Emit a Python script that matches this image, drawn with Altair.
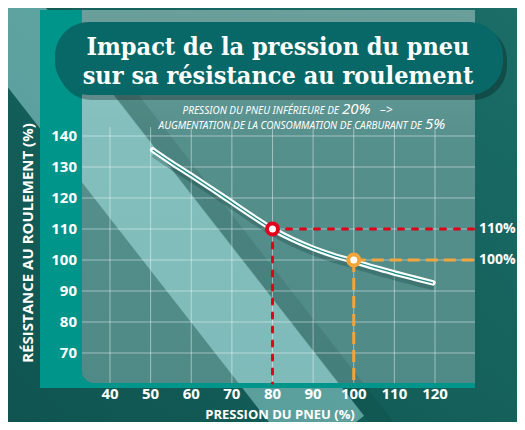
import altair as alt
import pandas as pd

# ---- data ----
pressure = [50.5, 55, 60, 65, 70, 75, 80, 85, 90, 95, 100, 105, 110, 115, 119.5]
resistance = [135.5, 131.5, 127.3, 123.0, 118.6, 114.2, 110.0, 106.6, 103.8, 101.5, 99.6, 97.6, 95.8, 94.1, 92.6]
x_ticks = [40, 50, 60, 70, 80, 90, 100, 110, 120]
y_ticks = [70, 80, 90, 100, 110, 120, 130, 140]
mark_pressure = [80, 100]
mark_resistance = [110, 100]
mark_labels = ["110%", "100%"]
mark_colors = ["#e0001b", "#f3a53c"]
title_lines = ["Impact de la pression du pneu", "sur sa résistance au roulement"]
subtitle_1 = ["PRESSION DU PNEU INFÉRIEURE DE", "20%", "–>"]
subtitle_2 = ["AUGMENTATION DE LA CONSOMMATION DE CARBURANT DE", "5%"]
x_title = "PRESSION DU PNEU (%)"
y_title = "RÉSISTANCE AU ROULEMENT (%)"

curve_df = pd.DataFrame({"p": pressure, "r": resistance})
xt_df = pd.DataFrame({"xt": x_ticks})
yt_df = pd.DataFrame({"yt": y_ticks})
red_df = pd.DataFrame({"p": mark_pressure[:1], "r": mark_resistance[:1], "lab": mark_labels[:1]})
orange_df = pd.DataFrame({"p": mark_pressure[1:], "r": mark_resistance[1:], "lab": mark_labels[1:]})
one = pd.DataFrame({"a": [0]})

W, H = 509, 414
xs = alt.Scale(domain=[14.892, 140.185], nice=False, zero=False)
ys = alt.Scale(domain=[47.74, 181.29], nice=False, zero=False)

TEAL = "#00958b"


def grad(c1, c2, x1=0, y1=0, x2=0, y2=1, mid=None):
    stops = [alt.GradientStop(offset=0, color=c1)]
    if mid:
        stops.append(alt.GradientStop(offset=mid[0], color=mid[1]))
    stops.append(alt.GradientStop(offset=1, color=c2))
    return alt.Gradient(gradient="linear", stops=stops, x1=x1, y1=y1, x2=x2, y2=y2)


def box(x, x2, y, y2, color, **kw):
    return alt.Chart(one).mark_rect(color=color, **kw).encode(
        x=alt.value(x), x2=alt.value(x2), y=alt.value(y), y2=alt.value(y2))


def label(txt, x, y, size, align="center", baseline="middle", **kw):
    return alt.Chart(one).mark_text(
        align=align, baseline=baseline, fontSize=size, color="white", **kw
    ).encode(x=alt.value(x), y=alt.value(y), text=alt.value(txt))


bg = box(0, W, 0, H, grad("#0f5450", "#1b6d67", x1=0, y1=1, x2=1, y2=0))
corner = box(66, 92, 355, 380, TEAL)
panel = box(74, 467, 2, 375, grad("#6b9f9b", "#4f8a87", mid=(0.35, "#56908d")), cornerRadiusBottomLeft=12)
stripe = alt.Chart(one).mark_rule(color="#c0ffff", opacity=0.42, strokeWidth=79, strokeCap="butt").encode(
    x=alt.value(-26), y=alt.value(-18), x2=alt.value(325), y2=alt.value(432))
stripe_shadow = alt.Chart(one).mark_rule(color="#03302d", opacity=0.12, strokeWidth=20, strokeCap="butt").encode(
    x=alt.value(36), y=alt.value(-18), x2=alt.value(387), y2=alt.value(432))
left_strip = box(32, 74, 2, 380, TEAL)
bottom_strip = box(74, 467, 375, 380, TEAL)

vgrid = alt.Chart(xt_df).mark_rule(color="white", opacity=0.45, strokeWidth=1).encode(
    x=alt.X("xt:Q", scale=xs, axis=None), y=alt.value(119), y2=alt.value(375))
hgrid = alt.Chart(yt_df).mark_rule(color="white", opacity=0.45, strokeWidth=1).encode(
    y=alt.Y("yt:Q", scale=ys, axis=None), x=alt.value(74), x2=alt.value(467))

tick_style = dict(color="white", font="Open Sans", fontWeight="bold", fontSize=15, baseline="middle")
xlabels = alt.Chart(xt_df).mark_text(align="center", **tick_style).encode(
    x=alt.X("xt:Q", scale=xs, axis=None), y=alt.value(386), text=alt.Text("xt:Q", format="d"))
ylabels = alt.Chart(yt_df).mark_text(align="right", **tick_style).encode(
    y=alt.Y("yt:Q", scale=ys, axis=None), x=alt.value(69), text=alt.Text("yt:Q", format="d"))

enc_xy = dict(x=alt.X("p:Q", scale=xs, axis=None), y=alt.Y("r:Q", scale=ys, axis=None))

shadow = alt.Chart(curve_df).mark_line(color="#062f2d", opacity=0.25, strokeWidth=7,
                                       interpolate="monotone", xOffset=1, yOffset=4).encode(**enc_xy)
line_w = alt.Chart(curve_df).mark_line(color="white", strokeWidth=5.5, strokeCap="round",
                                       interpolate="monotone").encode(**enc_xy)
line_t = alt.Chart(curve_df).mark_line(color="#1d8a88", strokeWidth=1.3,
                                       interpolate="monotone").encode(**enc_xy)


def guides(df, color, dash, cap):
    h = alt.Chart(df).mark_rule(color=color, strokeWidth=3, strokeDash=dash, strokeCap=cap).encode(
        x=alt.X("p:Q", scale=xs, axis=None), x2=alt.value(467), y=alt.Y("r:Q", scale=ys, axis=None))
    v = alt.Chart(df).mark_rule(color=color, strokeWidth=3, strokeDash=dash, strokeCap=cap).encode(
        x=alt.X("p:Q", scale=xs, axis=None), y=alt.Y("r:Q", scale=ys, axis=None), y2=alt.value(375))
    pt = alt.Chart(df).mark_point(filled=True, fill="white", stroke=color, strokeWidth=4,
                                  size=121, opacity=1, shape="circle").encode(**enc_xy)
    lab = alt.Chart(df).mark_text(align="left", baseline="middle", color="white", font="Open Sans",
                                  fontWeight="bold", fontSize=14).encode(
        x=alt.value(471), y=alt.Y("r:Q", scale=ys, axis=None), text="lab:N")
    return [h, v, pt, lab]


red = guides(red_df, mark_colors[0], [5, 9], "round")
orange = guides(orange_df, mark_colors[1], [12, 6], "butt")

title_shadow = box(50, 499, 18, 92, "#000000", opacity=0.28, cornerRadius=34)
title_box = box(47, 495, 14, 87, "#086868", cornerRadius=34)
t1 = label(title_lines[0], 270, 39, 25, font="DejaVu Serif Condensed", fontWeight="bold")
t2 = label(title_lines[1], 270, 68, 25, font="DejaVu Serif Condensed", fontWeight="bold")

s1a = label(subtitle_1[0], 331, 105.5, 10, align="right", baseline="alphabetic", font="Noto Sans", fontStyle="italic")
s1b = label(subtitle_1[1], 334, 105.5, 15, align="left", baseline="alphabetic", font="Noto Sans", fontStyle="italic")
s1c = label(subtitle_1[2], 372, 105.5, 12, align="left", baseline="alphabetic", font="Noto Sans", fontStyle="italic")
s2a = label(subtitle_2[0], 414, 121, 10, align="right", baseline="alphabetic", font="Noto Sans", fontStyle="italic")
s2b = label(subtitle_2[1], 417, 121, 15, align="left", baseline="alphabetic", font="Noto Sans", fontStyle="italic")

xtitle = label(x_title, 272, 407, 13, font="Open Sans", fontWeight="bold")
ytitle = label(y_title, 20, 235, 15, font="Open Sans", fontWeight="bold", angle=270)

chart = alt.layer(
    bg, corner, panel, stripe, stripe_shadow, left_strip, bottom_strip, vgrid, hgrid,
    xlabels, ylabels, shadow, line_w, line_t, *red, *orange,
    title_shadow, title_box, t1, t2, s1a, s1b, s1c, s2a, s2b, xtitle, ytitle,
).properties(
    width=W, height=H, background="#135e5a", padding=0, autosize="none"
).configure_view(strokeWidth=0)

chart.save("out.html", embed_options={"renderer": "svg", "actions": False})
